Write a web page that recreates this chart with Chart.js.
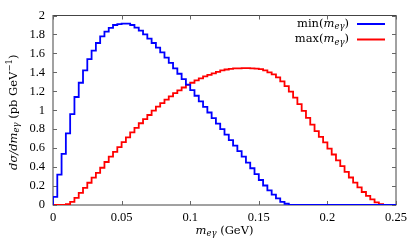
<!DOCTYPE html>
<html>
<head>
<meta charset="utf-8">
<script src="https://cdn.jsdelivr.net/npm/chart.js@4"></script>
<style>
  html, body { margin: 0; padding: 0; background: #fff; }
  #wrap { width: 415px; height: 242px; }
</style>
</head>
<body>
<div id="wrap"><canvas id="myChart" width="415" height="242"></canvas></div>
<script>
// bin width of the histogram (GeV), 80 bins from 0 to 0.25
const binWidth = 0.003125;

// dσ/dm for min(m_eγ), one value per bin
const minValues = [
    0.085, 0.32, 0.54, 0.755, 0.96, 1.14, 1.29, 1.42, 1.54, 1.63,
    1.71, 1.78, 1.83, 1.87, 1.90, 1.91, 1.915, 1.915, 1.90, 1.873,
    1.84, 1.80, 1.755, 1.71, 1.66, 1.61, 1.556, 1.50, 1.443, 1.385,
    1.328, 1.27, 1.212, 1.153, 1.094, 1.035, 0.976, 0.917, 0.858, 0.80,
    0.742, 0.684, 0.626, 0.568, 0.51, 0.448, 0.388, 0.326, 0.264, 0.206,
    0.155, 0.11, 0.069, 0.034, 0.013, 0, 0, 0, 0, 0,
    0, 0, 0, 0, 0, 0, 0, 0, 0, 0,
    0, 0, 0, 0, 0, 0, 0, 0, 0, 0
];

// dσ/dm for max(m_eγ), one value per bin
const maxValues = [
    0, 0, 0.002, 0.008, 0.034, 0.075, 0.128, 0.18, 0.235, 0.288,
    0.34, 0.393, 0.454, 0.51, 0.56, 0.61, 0.663, 0.714, 0.766, 0.814,
    0.863, 0.907, 0.95, 0.997, 1.038, 1.075, 1.113, 1.147, 1.18, 1.21,
    1.24, 1.268, 1.29, 1.316, 1.337, 1.358, 1.374, 1.39, 1.405, 1.42,
    1.43, 1.436, 1.441, 1.443, 1.444, 1.444, 1.443, 1.44, 1.433, 1.42,
    1.40, 1.378, 1.346, 1.305, 1.255, 1.196, 1.133, 1.065, 0.993, 0.92,
    0.848, 0.78, 0.72, 0.66, 0.595, 0.533, 0.47, 0.41, 0.35, 0.29,
    0.237, 0.186, 0.137, 0.096, 0.059, 0.028, 0.01, 0, 0, 0
];

const xTicks = [0, 0.05, 0.1, 0.15, 0.2, 0.25];
const yTicks = [0, 0.2, 0.4, 0.6, 0.8, 1, 1.2, 1.4, 1.6, 1.8, 2];

const FONT = '"Liberation Serif", "DejaVu Serif", serif';
const TFONT = '"DejaVu Serif", serif';

// points on the left edge of each bin, stepped lines hold the value to the next edge
function toSteps(values) {
    const pts = [{ x: 0, y: 0 }];
    values.forEach((v, i) => pts.push({ x: i * binWidth, y: v }));
    pts.push({ x: values.length * binWidth, y: values[values.length - 1] });
    return pts;
}

// draw text made of parts with different fonts / offsets (sub and superscripts)
function drawRich(ctx, parts, x, y, align) {
    let total = 0;
    parts.forEach((p) => {
        ctx.font = p.font;
        p.w = ctx.measureText(p.t).width;
        total += p.w;
    });
    let cx = align === 'right' ? x - total : align === 'center' ? x - total / 2 : x;
    ctx.textBaseline = 'middle';
    ctx.textAlign = 'left';
    parts.forEach((p) => {
        ctx.font = p.font;
        ctx.fillText(p.t, cx, y + (p.dy || 0));
        cx += p.w;
    });
}

const it = 'italic 11.5px ' + TFONT;
const rm = '11.5px ' + TFONT;
const sub = 'italic 8.5px ' + TFONT;
const sup = '8.5px ' + TFONT;

const framePlugin = {
    id: 'frame',
    beforeDatasetsDraw(chart) {
        const { ctx, chartArea: a, scales } = chart;
        ctx.save();
        ctx.strokeStyle = '#444';
        ctx.lineWidth = 1;
        ctx.strokeRect(a.left, a.top, a.right - a.left, a.bottom - a.top);
        ctx.strokeStyle = '#666';
        ctx.beginPath();
        xTicks.forEach((v) => {
            const px = Math.round(scales.x.getPixelForValue(v)) + 0.5;
            ctx.moveTo(px, a.bottom); ctx.lineTo(px, a.bottom - 4);
            ctx.moveTo(px, a.top); ctx.lineTo(px, a.top + 4);
        });
        yTicks.forEach((v) => {
            const py = Math.round(scales.y.getPixelForValue(v)) + 0.5;
            ctx.moveTo(a.left, py); ctx.lineTo(a.left + 4, py);
            ctx.moveTo(a.right, py); ctx.lineTo(a.right - 4, py);
        });
        ctx.stroke();
        ctx.restore();
    },
    afterDraw(chart) {
        const { ctx, chartArea: a } = chart;
        ctx.save();
        ctx.fillStyle = '#000';

        // x title
        drawRich(ctx, [
            { t: 'm', font: it },
            { t: 'eγ', font: sub, dy: 3 },
            { t: ' (GeV)', font: rm }
        ], (a.left + a.right) / 2, 231, 'center');

        // y title
        ctx.save();
        ctx.translate(14, (a.top + a.bottom) / 2 + 2);
        ctx.rotate(-Math.PI / 2);
        drawRich(ctx, [
            { t: 'dσ/dm', font: it },
            { t: 'eγ', font: sub, dy: 3 },
            { t: ' (pb GeV', font: rm },
            { t: '−1', font: sup, dy: -4 },
            { t: ')', font: rm }
        ], 0, 0, 'center');
        ctx.restore();

        // legend
        const rows = [
            { name: 'min(', color: '#0000ff', y: 24 },
            { name: 'max(', color: '#ff0000', y: 39.5 }
        ];
        rows.forEach((r) => {
            ctx.fillStyle = '#000';
            drawRich(ctx, [
                { t: r.name, font: rm },
                { t: 'm', font: it },
                { t: 'eγ', font: sub, dy: 3 },
                { t: ')', font: rm }
            ], 349, r.y, 'right');
            ctx.strokeStyle = r.color;
            ctx.lineWidth = 2;
            ctx.beginPath();
            ctx.moveTo(357, r.y);
            ctx.lineTo(385, r.y);
            ctx.stroke();
        });
        ctx.restore();
    }
};

const ctx = document.getElementById('myChart').getContext('2d');
new Chart(ctx, {
    type: 'line',
    data: {
        datasets: [
            {
                label: 'min',
                data: toSteps(minValues),
                borderColor: '#0000ff',
                borderWidth: 1.8,
                stepped: true,
                pointRadius: 0,
                fill: false,
            },
            {
                label: 'max',
                data: toSteps(maxValues),
                borderColor: '#ff0000',
                borderWidth: 1.8,
                stepped: true,
                pointRadius: 0,
                fill: false,
            },
        ],
    },
    options: {
        responsive: false,
        animation: false,
        layout: { padding: { left: 0, right: 19, top: 11, bottom: 0 } },
        plugins: {
            legend: { display: false },
            tooltip: { enabled: false },
        },
        scales: {
            x: {
                type: 'linear',
                min: 0,
                max: 0.25,
                grid: { display: false, drawTicks: false },
                border: { display: false },
                afterBuildTicks: (s) => { s.ticks = xTicks.map((v) => ({ value: v })); },
                afterFit: (s) => { s.height = 37; },
                ticks: {
                    padding: 5,
                    maxRotation: 0,
                    color: '#000',
                    font: { family: FONT, size: 12.5 },
                    callback: (v) => String(+v.toFixed(2)),
                },
            },
            y: {
                min: 0,
                max: 2,
                grid: { display: false, drawTicks: false },
                border: { display: false },
                afterBuildTicks: (s) => { s.ticks = yTicks.map((v) => ({ value: v })); },
                afterFit: (s) => { s.width = 53; },
                ticks: {
                    padding: 8,
                    color: '#000',
                    font: { family: FONT, size: 12.5 },
                    callback: (v) => String(+v.toFixed(1)),
                },
            },
        },
    },
    plugins: [framePlugin],
});
</script>
</body>
</html>
